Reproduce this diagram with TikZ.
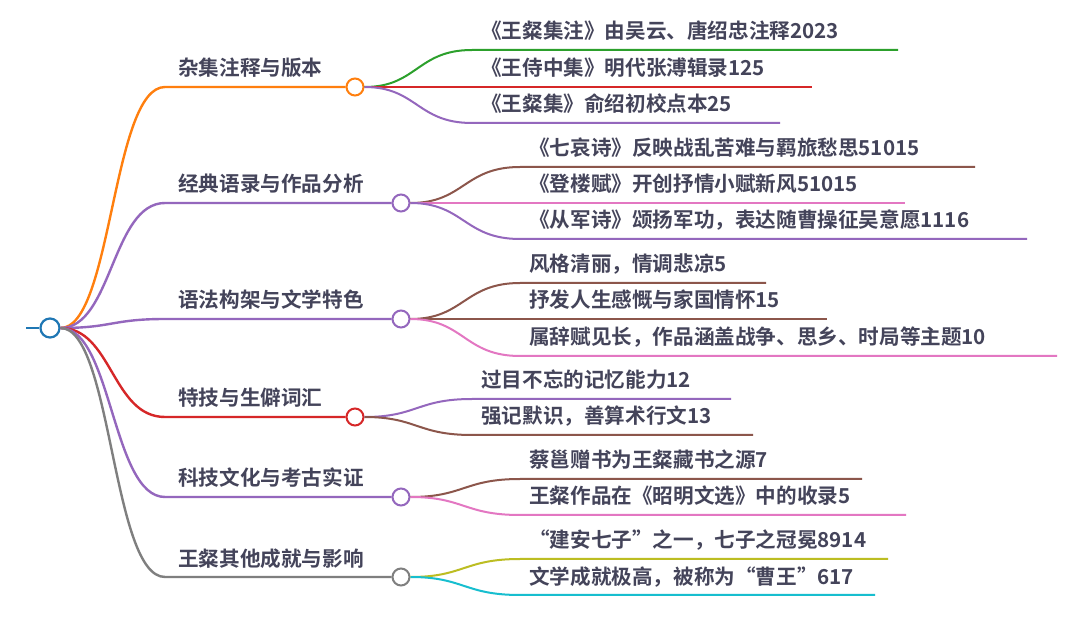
\documentclass[tikz,border=0pt]{standalone}
\usepackage{fontspec}
\setmainfont{Noto Sans CJK SC}[BoldFont=* Bold]
\definecolor{cblue}{HTML}{1F77B4}
\definecolor{corange}{HTML}{FF7F0E}
\definecolor{cgreen}{HTML}{2CA02C}
\definecolor{cred}{HTML}{D62728}
\definecolor{cpurple}{HTML}{9467BD}
\definecolor{cbrown}{HTML}{8C564B}
\definecolor{cpink}{HTML}{E377C2}
\definecolor{cgray}{HTML}{7F7F7F}
\definecolor{colive}{HTML}{BCBD22}
\definecolor{ccyan}{HTML}{17BECF}
\definecolor{txtc}{RGB}{68,68,90}
\begin{document}
\begin{tikzpicture}[x=1pt,y=-1pt,
  txt/.style={font=\bfseries\fontsize{20.6pt}{24pt}\selectfont, text=txtc, anchor=base west, inner sep=0pt},
  circ/.style={circle, draw, fill=white, line width=2pt, minimum size=17pt, inner sep=0pt},
  rootcirc/.style={circle, draw=cblue, fill=white, line width=2.2pt, minimum size=19pt, inner sep=0pt},
  mainln/.style={line width=2.4pt},
  subln/.style={line width=2pt}]
\fill[white] (0,0) rectangle (1080,617);
\useasboundingbox (0,0) rectangle (1080,617);

% ---------- root ----------
\node[rootcirc] (root) at (50,328) {};
\coordinate (rl) at (26,328);
\draw[mainln, cblue] (rl) -- (root.west);

% ---------- main circles ----------
\node[circ, draw=corange] (c1) at (355,87) {};
\node[circ, draw=cpurple] (c2) at (401,203) {};
\node[circ, draw=cpurple] (c3) at (401,319) {};
\node[circ, draw=cred]    (c4) at (355,417) {};
\node[circ, draw=cpurple] (c5) at (401,497) {};
\node[circ, draw=cgray]   (c6) at (401,577) {};

% ---------- main branches ----------
\coordinate (m1) at (165,87);
\coordinate (m2) at (165,203);
\coordinate (m3) at (165,319);
\coordinate (m4) at (165,417);
\coordinate (m5) at (165,497);
\coordinate (m6) at (165,577);
\draw[mainln, corange] (root.east) .. controls (112,328) and (112,87) .. (m1) -- (c1.west);
\draw[mainln, cpurple] (root.east) .. controls (112,328) and (112,203) .. (m2) -- (c2.west);
\draw[mainln, cpurple] (root.east) .. controls (112,328) and (112,319) .. (m3) -- (c3.west);
\draw[mainln, cred]    (root.east) .. controls (112,328) and (112,417) .. (m4) -- (c4.west);
\draw[mainln, cpurple] (root.east) .. controls (112,328) and (112,497) .. (m5) -- (c5.west);
\draw[mainln, cgray]   (root.east) .. controls (112,328) and (112,577) .. (m6) -- (c6.west);

\node[txt] (l1) at (178,76)  {杂集注释与版本};
\node[txt] (l2) at (178,192) {经典语录与作品分析};
\node[txt] (l3) at (178,308) {语法构架与文学特色};
\node[txt] (l4) at (178,406) {特技与生僻词汇};
\node[txt] (l5) at (178,486) {科技文化与考古实证};
\node[txt] (l6) at (178,566) {王粲其他成就与影响};

% ---------- branch 1 ----------
\coordinate (s1a) at (472,50);  \coordinate (e1a) at (898,50);
\coordinate (s1b) at (472,87);  \coordinate (e1b) at (812,87);
\coordinate (s1c) at (472,123); \coordinate (e1c) at (780,123);
\draw[subln, cgreen]  (c1.east) .. controls (417,87) and (417,50) .. (s1a) -- (e1a);
\draw[subln, cred]    (c1.east) -- (s1b) -- (e1b);
\draw[subln, cpurple] (c1.east) .. controls (417,87) and (417,123) .. (s1c) -- (e1c);
\node[txt] (t1a) at (481,39)  {《王粲集注》由吴云、唐绍忠注释2023};
\node[txt] (t1b) at (481,76)  {《王侍中集》明代张溥辑录125};
\node[txt] (t1c) at (481,112) {《王粲集》俞绍初校点本25};

% ---------- branch 2 ----------
\coordinate (s2a) at (520,167); \coordinate (e2a) at (975,167);
\coordinate (s2b) at (520,203); \coordinate (e2b) at (905,203);
\coordinate (s2c) at (520,239); \coordinate (e2c) at (1027,239);
\draw[subln, cbrown]  (c2.east) .. controls (464,203) and (464,167) .. (s2a) -- (e2a);
\draw[subln, cpink]   (c2.east) -- (s2b) -- (e2b);
\draw[subln, cpurple] (c2.east) .. controls (464,203) and (464,239) .. (s2c) -- (e2c);
\node[txt] (t2a) at (529,156) {《七哀诗》反映战乱苦难与羁旅愁思51015};
\node[txt] (t2b) at (529,192) {《登楼赋》开创抒情小赋新风51015};
\node[txt] (t2c) at (529,228) {《从军诗》颂扬军功，表达随曹操征吴意愿1116};

% ---------- branch 3 ----------
\coordinate (s3a) at (520,283); \coordinate (e3a) at (766,283);
\coordinate (s3b) at (520,319); \coordinate (e3b) at (827,319);
\coordinate (s3c) at (520,356); \coordinate (e3c) at (1057,356);
\draw[subln, cbrown] (c3.east) .. controls (464,319) and (464,283) .. (s3a) -- (e3a);
\draw[subln, cbrown] (c3.east) -- (s3b) -- (e3b);
\draw[subln, cpink]  (c3.east) .. controls (464,319) and (464,356) .. (s3c) -- (e3c);
\node[txt] (t3a) at (529,272) {风格清丽，情调悲凉5};
\node[txt] (t3b) at (529,308) {抒发人生感慨与家国情怀15};
\node[txt] (t3c) at (529,345) {属辞赋见长，作品涵盖战争、思乡、时局等主题10};

% ---------- branch 4 ----------
\coordinate (s4a) at (472,399); \coordinate (e4a) at (731,399);
\coordinate (s4b) at (472,435); \coordinate (e4b) at (753,435);
\draw[subln, cpurple] (c4.east) .. controls (417,417) and (417,399) .. (s4a) -- (e4a);
\draw[subln, cbrown]  (c4.east) .. controls (417,417) and (417,435) .. (s4b) -- (e4b);
\node[txt] (t4a) at (481,388) {过目不忘的记忆能力12};
\node[txt] (t4b) at (481,424) {强记默识，善算术行文13};

% ---------- branch 5 ----------
\coordinate (s5a) at (520,479); \coordinate (e5a) at (862,479);
\coordinate (s5b) at (520,515); \coordinate (e5b) at (906,515);
\draw[subln, cbrown] (c5.east) .. controls (464,497) and (464,479) .. (s5a) -- (e5a);
\draw[subln, cpink]  (c5.east) .. controls (464,497) and (464,515) .. (s5b) -- (e5b);
\node[txt] (t5a) at (529,468) {蔡邕赠书为王粲藏书之源7};
\node[txt] (t5b) at (529,504) {王粲作品在《昭明文选》中的收录5};

% ---------- branch 6 ----------
\coordinate (s6a) at (520,559); \coordinate (e6a) at (888,559);
\coordinate (s6b) at (520,595); \coordinate (e6b) at (875,595);
\draw[subln, colive] (c6.east) .. controls (464,577) and (464,559) .. (s6a) -- (e6a);
\draw[subln, ccyan]  (c6.east) .. controls (464,577) and (464,595) .. (s6b) -- (e6b);
\node[txt] (t6a) at (529,548) {“建安七子”之一，七子之冠冕8914};
\node[txt] (t6b) at (529,584) {文学成就极高，被称为“曹王”617};
\end{tikzpicture}
\end{document}
